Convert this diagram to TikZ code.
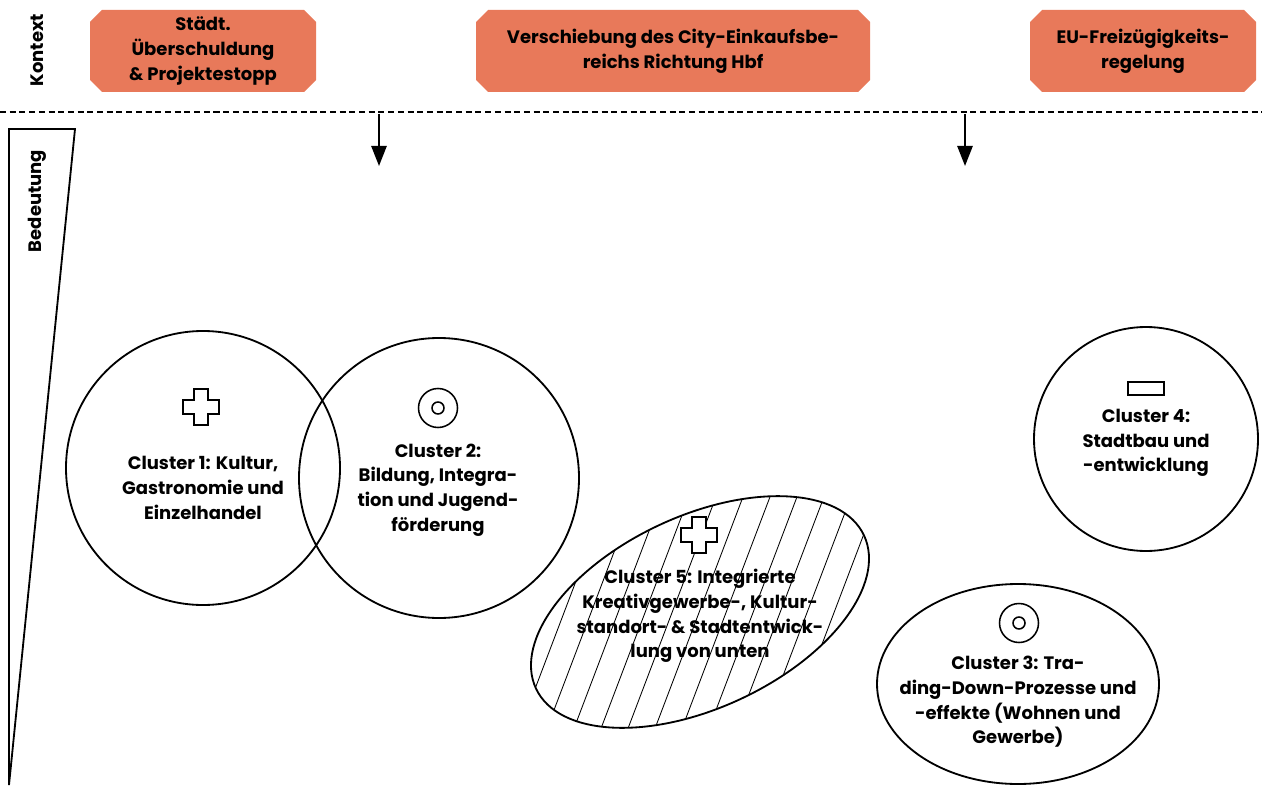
\documentclass[tikz,border=0pt]{standalone}
\usepackage{fontspec}
\setmainfont{Poppins}
\usetikzlibrary{arrows.meta}
\definecolor{kontextorange}{HTML}{E8795A}

\begin{document}
\begin{tikzpicture}[x=0.025cm,y=-0.025cm,
  boxtext/.style={align=center,inner sep=0pt,font=\fontsize{12.8}{17.6}\selectfont\bfseries},
  clustertext/.style={align=center,inner sep=0pt,font=\fontsize{12.8}{17.6}\selectfont\bfseries},
  rand/.style={draw=black,line width=1.3pt},
  icon/.style={draw=black,line width=1.1pt,fill=white},
  pfeil/.style={line width=1.4pt,-{Triangle[length=0.5cm,width=0.38cm]}}]
\useasboundingbox (0,0) rectangle (1262,787);

\newcommand{\kontextbox}[4]
{
\fill[kontextorange] (#1,#2) ++(12,0) -- ++({#3-24},0) -- ++(12,12) -- ++(0,{#4-24}) -- ++(-12,12) -- ++({24-#3},0) -- ++(-12,-12) -- ++(0,{24-#4}) -- cycle;
}
\newcommand{\plusicon}[2]
{
\draw[icon] (#1,#2) ++(-7,-18) -- ++(14,0) -- ++(0,11) -- ++(11,0) -- ++(0,14) -- ++(-11,0) -- ++(0,11) -- ++(-14,0) -- ++(0,-11) -- ++(-11,0) -- ++(0,-14) -- ++(11,0) -- cycle;
}
\newcommand{\zielicon}[2]
{
\draw[icon] (#1,#2) circle (19.5);
\draw[icon] (#1,#2) circle (6);
}

\node[rotate=90,inner sep=0pt,font=\fontsize{12.8}{16}\selectfont\bfseries] (kontext) at (37,50) {Kontext};
\node[rotate=90,inner sep=0pt,font=\fontsize{12.8}{16}\selectfont\bfseries] (bedeutung) at (37,201) {Bedeutung};

\kontextbox{90}{10}{226}{82}
\kontextbox{476}{10}{394}{82}
\kontextbox{1030}{10}{226}{82}
\node[boxtext] (schulden) at (203,51) {Städt.\\Überschuldung\\\& Projektestopp};
\node[boxtext] (city) at (673,51) {Verschiebung des City-Einkaufsbe-\\reichs Richtung Hbf};
\node[boxtext] (eu) at (1143,51) {EU-Freizügigkeits-\\regelung};

\draw[line width=1.4pt,dash pattern=on 4.3pt off 2.6pt] (0,112) -- (1262,112);

\coordinate (pfeil1a) at (379,114);
\coordinate (pfeil1b) at (379,166);
\coordinate (pfeil2a) at (965,114);
\coordinate (pfeil2b) at (965,166);
\draw[pfeil] (pfeil1a) -- (pfeil1b);
\draw[pfeil] (pfeil2a) -- (pfeil2b);

\draw[rand,line join=miter] (9,129) -- (75,129) -- (9,785) -- cycle;

\begin{scope}
\clip[rotate around={25:(700,612)}] (700,612) ellipse [x radius=181, y radius=96];
\foreach \hx in {400,427,...,900}
{
\draw[line width=0.6pt] (\hx,760) -- ++(114,-300);
}
\end{scope}
\draw[rand,rotate around={25:(700,612)}] (700,612) ellipse [x radius=181, y radius=96];

\draw[rand] (203,468) circle (137);
\draw[rand] (439,478) circle (140);
\draw[rand] (1146,439) circle (112);
\draw[rand] (1018,684) ellipse [x radius=141, y radius=100];

\plusicon{201}{407}
\zielicon{438}{408}
\plusicon{699}{535}
\draw[icon,line width=1.6pt] (1128,382) rectangle (1164,395);
\zielicon{1019}{623}

\node[clustertext] (cluster1) at (203,488) {Cluster 1: Kultur,\\Gastronomie und\\Einzelhandel};
\node[clustertext] (cluster2) at (438,490) {Cluster 2:\\Bildung, Integra-\\tion und Jugend-\\förderung};
\node[clustertext] (cluster4) at (1146,443) {Cluster 4:\\Stadtbau und\\-entwicklung};
\node[clustertext] (cluster5) at (700,616) {Cluster 5: Integrierte\\Kreativgewerbe-, Kultur-\\standort- \& Stadtentwick-\\lung von unten};
\node[clustertext] (cluster3) at (1018,702) {Cluster 3: Tra-\\ding-Down-Prozesse und\\-effekte (Wohnen und\\Gewerbe)};

\end{tikzpicture}
\end{document}
